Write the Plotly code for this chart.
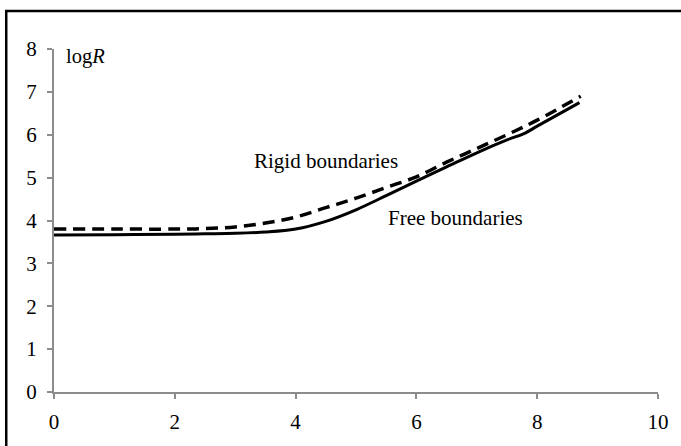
import plotly.graph_objects as go

# Free boundaries (solid)
free_x = [0, 1, 2, 2.5, 3, 3.5, 4, 4.5, 5, 5.5, 6, 6.5, 7, 7.5, 7.8, 8, 8.7]
free_y = [3.66, 3.67, 3.68, 3.69, 3.70, 3.73, 3.80, 3.98, 4.25, 4.58, 4.92, 5.25, 5.58, 5.88, 6.04, 6.20, 6.75]

# Rigid boundaries (dashed)
rigid_x = [0, 1, 2, 2.5, 3, 3.5, 4, 4.5, 5, 5.5, 6, 6.5, 7, 7.5, 8, 8.72]
rigid_y = [3.80, 3.80, 3.80, 3.81, 3.85, 3.94, 4.08, 4.30, 4.52, 4.77, 5.02, 5.36, 5.68, 6.00, 6.34, 6.90]

x_ticks = [0, 2, 4, 6, 8, 10]
y_ticks = [0, 1, 2, 3, 4, 5, 6, 7, 8]

FONT = "Liberation Serif"
AXIS_COLOR = "#8c8c8c"

fig = go.Figure()
fig.add_trace(go.Scatter(x=rigid_x, y=rigid_y, mode="lines",
                         line=dict(color="black", width=3.5, dash="12px,7px"),
                         line_shape="spline", showlegend=False))
fig.add_trace(go.Scatter(x=free_x, y=free_y, mode="lines",
                         line=dict(color="black", width=3),
                         line_shape="spline", showlegend=False))

fig.update_layout(
    width=681, height=446,
    margin=dict(l=54, r=20, t=49, b=49),
    paper_bgcolor="white", plot_bgcolor="white",
    font=dict(family=FONT, size=20, color="black"),
    showlegend=False,
    xaxis=dict(range=[0, 10], tickvals=x_ticks, showgrid=False, zeroline=False,
               showline=True, linecolor=AXIS_COLOR, linewidth=2,
               ticks="outside", ticklen=5, tickwidth=2, tickcolor=AXIS_COLOR,
               tickfont=dict(family=FONT, size=21), ticklabelstandoff=5),
    yaxis=dict(range=[0, 8], tickvals=y_ticks, showgrid=False, zeroline=False,
               showline=True, linecolor=AXIS_COLOR, linewidth=2,
               ticks="outside", ticklen=5, tickwidth=2, tickcolor=AXIS_COLOR,
               tickfont=dict(family=FONT, size=21), ticklabelstandoff=6),
    annotations=[
        dict(x=0.165, y=7.82, xref="x", yref="y", text="log<i>R</i>", showarrow=False,
             xanchor="left", yanchor="middle", font=dict(family=FONT, size=20.5)),
        dict(x=10.08, y=0.39, xref="x", yref="y", text="log<i>T</i><sub><i>a</i></sub>",
             showarrow=False, xanchor="right", yanchor="middle", font=dict(family=FONT, size=20.5)),
        dict(x=4.50, y=5.38, xref="x", yref="y", text="Rigid boundaries", showarrow=False,
             xanchor="center", yanchor="middle", font=dict(family=FONT, size=21)),
        dict(x=6.64, y=4.05, xref="x", yref="y", text="Free boundaries", showarrow=False,
             xanchor="center", yanchor="middle", font=dict(family=FONT, size=21)),
    ],
    shapes=[
        dict(type="rect", xref="paper", yref="paper",
             x0=(6 - 54) / 607, x1=(700 - 54) / 607,
             y0=(397 - 470) / 348, y1=(397 - 10.5) / 348,
             line=dict(color="black", width=2.5), fillcolor="rgba(0,0,0,0)", layer="above"),
    ],
)

fig.write_html("out.html")
